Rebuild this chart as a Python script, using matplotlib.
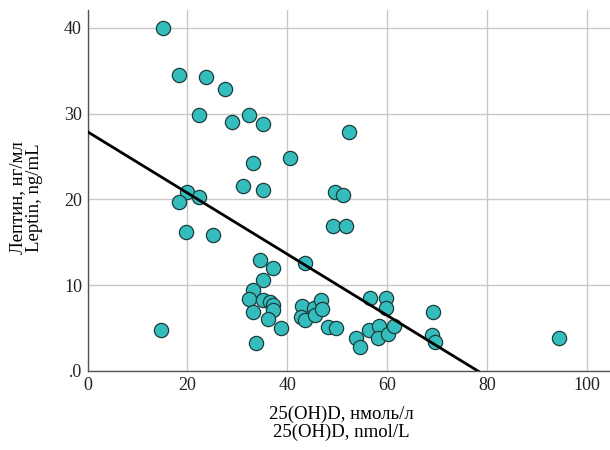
import numpy as np
import matplotlib
matplotlib.use("Agg")
import matplotlib.pyplot as plt

plt.rcParams['font.family'] = ['Liberation Serif', 'DejaVu Serif']

# 25(OH)D, nmol/L
vit_d = [15.1, 18.4, 23.8, 27.5, 22.3, 28.9, 32.3, 35.1, 40.5, 33.1,
         31.1, 35.2, 19.9, 22.3, 18.3, 52.4, 49.5, 51.1, 49.1, 51.8,
         43.6, 19.8, 25.1, 14.8, 34.6, 37.1, 35.1, 33.1, 32.4, 35.1,
         36.6, 37.1, 37.1, 33.1, 36.1, 38.7, 33.8, 42.9, 42.7, 43.6,
         45.3, 45.6, 46.8, 46.9, 48.2, 49.7, 56.6, 59.7, 59.8, 69.1,
         53.7, 54.5, 56.4, 58.3, 58.1, 60.1, 61.3, 68.9, 69.6, 94.4]
# Leptin, ng/mL
leptin = [40.0, 34.5, 34.3, 32.9, 29.9, 29.0, 29.8, 28.8, 24.8, 24.2,
          21.6, 21.1, 20.9, 20.3, 19.7, 27.9, 20.9, 20.5, 16.9, 16.9,
          12.6, 16.2, 15.9, 4.8, 12.9, 12.0, 10.6, 9.45, 8.45, 8.3,
          8.0, 7.7, 7.1, 6.9, 6.1, 5.0, 3.3, 7.6, 6.3, 6.0,
          7.3, 6.5, 8.3, 7.2, 5.1, 5.0, 8.55, 8.5, 7.4, 6.9,
          3.8, 2.8, 4.8, 5.25, 3.9, 4.3, 5.3, 4.2, 3.4, 3.9]

# fitted line
fit_intercept = 27.9
fit_slope = -0.357

x_ticks = [0, 20, 40, 60, 80, 100]
y_ticks = [0, 10, 20, 30, 40]
y_tick_labels = ['.0', '10', '20', '30', '40']

fig = plt.figure(figsize=(6.1, 4.5), dpi=100)
ax = fig.add_axes([0.1435, 0.1756, 0.8565, 0.8022])

ax.grid(True, color='#c8c8c8', linewidth=1.0)
ax.set_axisbelow(True)

ax.scatter(vit_d, leptin, s=105, c='#35bdbd', edgecolors='#1c3c3c',
           linewidths=0.9, zorder=3)

xx = np.array([0, 105])
ax.plot(xx, fit_intercept + fit_slope * xx, color='black', linewidth=2, zorder=4)

ax.set_xlim(0, 104.6)
ax.set_ylim(0, 42.1)
ax.set_xticks(x_ticks)
ax.set_yticks(y_ticks)
ax.set_yticklabels(y_tick_labels)
ax.tick_params(length=0, labelsize=13, colors='#222222', pad=4)

for side in ['top', 'right']:
    ax.spines[side].set_visible(False)
for side in ['left', 'bottom']:
    ax.spines[side].set_color('#555555')
    ax.spines[side].set_linewidth(1.0)

ax.set_xlabel('25(OH)D, нмоль/л\n25(OH)D, nmol/L', fontsize=13.5,
              linespacing=1.0)
ax.set_ylabel('Лептин, нг/мл\nLeptin, ng/mL', fontsize=13.5,
              linespacing=1.0)
ax.xaxis.set_label_coords(0.485, -0.097)
ax.yaxis.set_label_coords(-0.086, 0.48)

plt.savefig('out.png', dpi=100)
